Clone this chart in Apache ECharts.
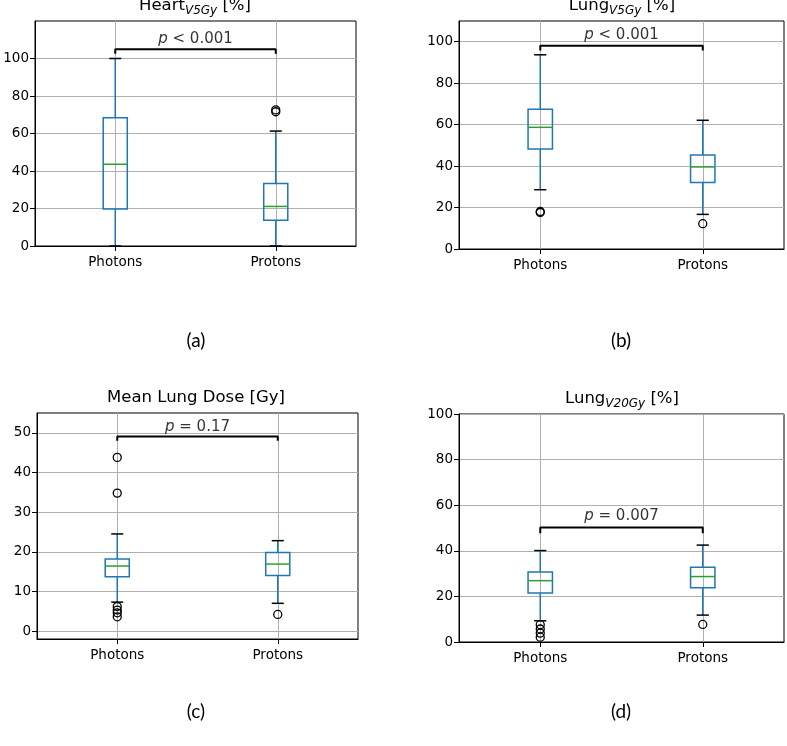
<!DOCTYPE html>
<html>
<head>
<meta charset="utf-8">
<script src="https://cdn.jsdelivr.net/npm/echarts@6.0.0/dist/echarts.min.js"></script>
<style>
  html, body { margin: 0; padding: 0; background: #fff; }
  #main { width: 787px; height: 746px; }
</style>
</head>
<body>
<div id="main"></div>
<script>
// groups on the x axis (positions 1 and 2)
var groups = ['Photons', 'Protons'];

// box stats per group: [low whisker, Q1, median, Q3, high whisker]
var heartV5Box = [[0, 19.7, 43.6, 68.4, 100], [0, 13.8, 21.1, 33.3, 61.3]];
var heartV5Out = [[], [72.6, 71.6]];
var lungV5Box = [[28.6, 48.3, 58.7, 67.4, 93.7], [16.7, 32.1, 39.6, 45.3, 62.1]];
var lungV5Out = [[17.6, 18.1], [12.2]];
var mldBox = [[7.3, 13.7, 16.4, 18.2, 24.5], [7.0, 14.0, 16.9, 19.8, 22.8]];
var mldOut = [[43.8, 34.8, 6.2, 5.3, 4.6, 3.6], [4.2]];
var lungV20Box = [[9.3, 21.5, 26.9, 30.7, 40.1], [11.8, 23.8, 28.7, 32.8, 42.5]];
var lungV20Out = [[7.6, 5.7, 3.9, 2.1], [7.7]];

// significance brackets: [drop end, top], text baseline value, text
var brackets = [[102.5, 105], [95.8, 98.1], [48.0, 49.1], [47.7, 50.2]];
var pTextY = [106.2, 99.5, 49.3, 51.5];
var pTexts = ['{i|p} < 0.001', '{i|p} < 0.001', '{i|p} = 0.17', '{i|p} = 0.007'];

// y axis ranges and tick labels
var yRanges = [[0, 120], [0, 110], [-2, 55], [0, 100]];
var yTicks = [
  [0, 20, 40, 60, 80, 100],
  [0, 20, 40, 60, 80, 100],
  [0, 10, 20, 30, 40, 50],
  [0, 20, 40, 60, 80, 100]
];

var boxes = [heartV5Box, lungV5Box, mldBox, lungV20Box];
var outliers = [heartV5Out, lungV5Out, mldOut, lungV20Out];

var FONT = 'DejaVu Sans';
var BLUE = '#1f77b4';
var GREEN = '#2ca02c';
var BOX_W = 0.15;

var grids = [
  { left: 35, top: 21, width: 321, height: 225 },
  { left: 459, top: 21, width: 325, height: 228 },
  { left: 37, top: 413, width: 321, height: 226 },
  { left: 459, top: 414, width: 325, height: 228 }
];

function renderBox(params, api) {
  var x = api.value(0);
  var lo = api.coord([x, api.value(1)]);
  var q1 = api.coord([x, api.value(2)]);
  var med = api.coord([x, api.value(3)]);
  var q3 = api.coord([x, api.value(4)]);
  var hi = api.coord([x, api.value(5)]);
  var half = api.size([BOX_W, 0])[0] / 2;
  var cx = lo[0];
  var cap = half / 2;
  function seg(x1, y1, x2, y2, color) {
    return { type: 'line', shape: { x1: x1, y1: y1, x2: x2, y2: y2 },
      style: { stroke: color, lineWidth: 1.5 } };
  }
  return {
    type: 'group',
    children: [
      seg(cx, lo[1], cx, q1[1], BLUE),
      seg(cx, q3[1], cx, hi[1], BLUE),
      seg(cx - cap, lo[1], cx + cap, lo[1], '#000'),
      seg(cx - cap, hi[1], cx + cap, hi[1], '#000'),
      { type: 'rect', shape: { x: cx - half, y: q3[1], width: half * 2, height: q1[1] - q3[1] },
        style: { stroke: BLUE, fill: 'none', lineWidth: 1.5 } },
      seg(cx - half, med[1], cx + half, med[1], GREEN)
    ]
  };
}

var xAxes = [], yAxes = [], series = [];
grids.forEach(function (g, i) {
  xAxes.push({
    type: 'value', gridIndex: i, min: 0.5, max: 2.5,
    axisLine: { show: true, onZero: false, lineStyle: { color: '#000', width: 1 } },
    axisTick: { show: true, length: 5, customValues: [1, 2], lineStyle: { color: '#000' } },
    axisLabel: {
      customValues: [1, 2], margin: 9, color: '#000', fontSize: 13.5, fontFamily: FONT,
      formatter: function (v) { return groups[Math.round(v) - 1]; }
    },
    splitLine: { show: true, lineStyle: { color: '#b0b0b0', width: 1 } }
  });
  yAxes.push({
    type: 'value', gridIndex: i, min: yRanges[i][0], max: yRanges[i][1],
    axisLine: { show: true, onZero: false, lineStyle: { color: '#000', width: 1 } },
    axisTick: { show: true, length: 5, customValues: yTicks[i], lineStyle: { color: '#000' } },
    axisLabel: { customValues: yTicks[i], margin: 6, color: '#000', fontSize: 13.5, fontFamily: FONT },
    splitLine: { show: true, lineStyle: { color: '#b0b0b0', width: 1 } }
  });

  series.push({
    type: 'custom', xAxisIndex: i, yAxisIndex: i, renderItem: renderBox, z: 3,
    data: boxes[i].map(function (b, k) { return [k + 1].concat(b); })
  });

  var out = [];
  outliers[i].forEach(function (list, k) {
    list.forEach(function (v) { out.push([k + 1, v]); });
  });
  series.push({
    type: 'scatter', xAxisIndex: i, yAxisIndex: i, symbol: 'circle', symbolSize: 8, z: 4,
    itemStyle: { color: 'rgba(0,0,0,0)', borderColor: '#000', borderWidth: 1.3, opacity: 1 },
    data: out
  });

  var b = brackets[i];
  series.push({
    type: 'line', xAxisIndex: i, yAxisIndex: i, showSymbol: false, symbol: 'none', z: 5,
    lineStyle: { color: '#000', width: 2 },
    data: [[1, b[0]], [1, b[1]], [2, b[1]], [2, b[0]]]
  });

  series.push({
    type: 'scatter', xAxisIndex: i, yAxisIndex: i, symbolSize: 1, z: 6,
    itemStyle: { color: 'rgba(0,0,0,0)' },
    label: {
      show: true, position: 'top', distance: 0, formatter: pTexts[i],
      color: '#000', fontSize: 15, fontFamily: FONT,
      rich: { i: { fontStyle: 'italic', fontSize: 15, fontFamily: FONT, color: '#000' } }
    },
    data: [[1.5, pTextY[i]]]
  });
});

var titleRich = {
  n: { fontSize: 16.5, fontFamily: FONT, color: '#000', verticalAlign: 'top', lineHeight: 19, padding: [0, 0, 3, 0] },
  s: { fontSize: 12, fontFamily: FONT, fontStyle: 'italic', color: '#000', verticalAlign: 'bottom', lineHeight: 14 }
};
function titleEl(x, y, text) {
  return { type: 'text', x: x, y: y, z: 10,
    style: { text: text, rich: titleRich, textAlign: 'center', textVerticalAlign: 'middle', fill: '#000' } };
}
function panelEl(x, y, text) {
  return { type: 'text', x: x, y: y, z: 10,
    style: { text: text, font: '19px Lato', textAlign: 'center', textVerticalAlign: 'middle', fill: '#000' } };
}

var myChart = echarts.init(document.getElementById('main'));
myChart.setOption({
  animation: false,
  grid: grids.map(function (g) {
    return Object.assign({ show: true, borderColor: '#000', borderWidth: 1, backgroundColor: 'transparent' }, g);
  }),
  xAxis: xAxes,
  yAxis: yAxes,
  series: series,
  graphic: [
    titleEl(195, 7, '{n|Heart}{s|V5Gy}{n| [%]}'),
    titleEl(622, 7, '{n|Lung}{s|V5Gy}{n| [%]}'),
    titleEl(196, 399, '{n|Mean Lung Dose [Gy]}'),
    titleEl(622, 400, '{n|Lung}{s|V20Gy}{n| [%]}'),
    panelEl(196, 341, '(a)'),
    panelEl(621, 341, '(b)'),
    panelEl(196, 712, '(c)'),
    panelEl(621, 712, '(d)')
  ]
});
</script>
</body>
</html>
